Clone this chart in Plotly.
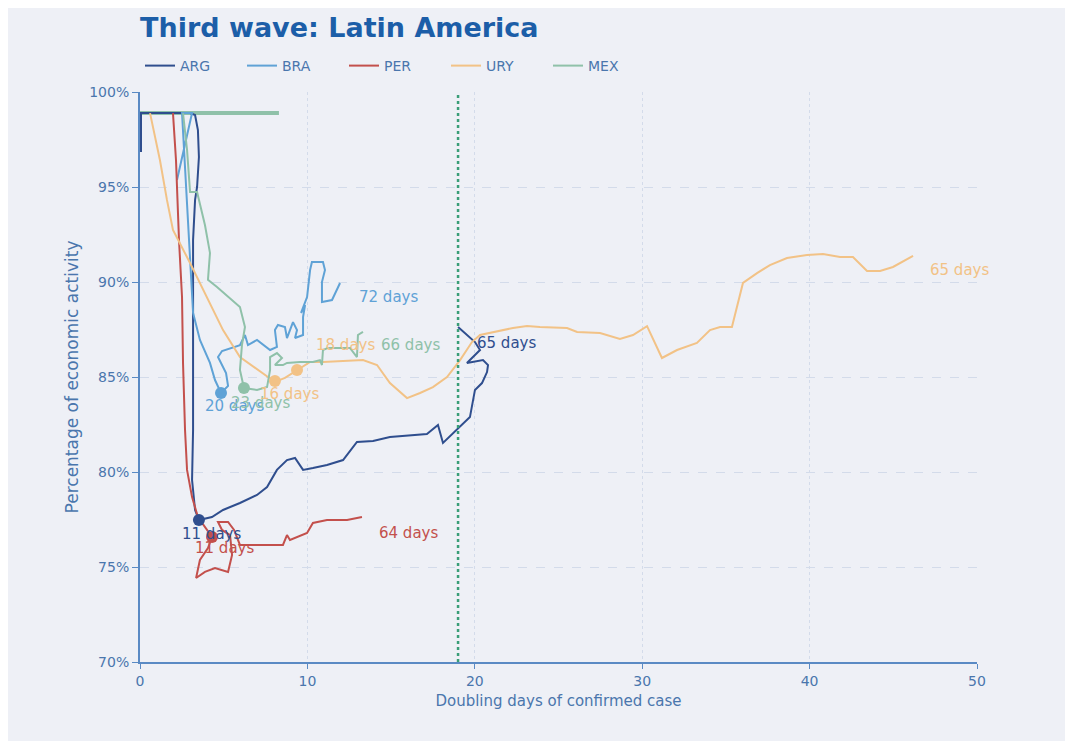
import plotly.graph_objects as go

# ---------------- data ----------------
arg_x = [0.06, 0.06, 2.99, 3.29, 3.46, 3.52, 3.41, 3.29, 3.17, 3.17, 3.17, 3.11, 3.29, 3.52,
         4.30, 4.96, 5.97, 6.99, 7.59, 8.18, 8.78, 9.26, 9.74, 10.33, 11.17, 12.13, 12.96,
         13.92, 14.93, 17.14, 17.80, 18.10, 19.12, 19.71, 20.01, 20.43, 20.73, 20.79, 20.49,
         19.83, 19.53, 20.31, 20.01, 19.00]
arg_y = [96.84, 98.89, 98.89, 98.79, 98.00, 96.58, 95.00, 94.32, 92.21, 87.47, 82.21, 79.58,
         78.00, 77.47, 77.63, 78.00, 78.37, 78.79, 79.21, 80.11, 80.63, 80.74, 80.11, 80.21,
         80.37, 80.63, 81.58, 81.63, 81.84, 82.00, 82.47, 81.53, 82.37, 82.89, 84.32, 84.68,
         85.26, 85.63, 85.89, 85.79, 85.74, 86.42, 86.84, 87.63]

bra_x = [2.21, 3.11, 2.51, 2.69, 2.87, 3.17, 3.58, 4.18, 4.48, 4.84, 5.26, 5.14, 4.66, 4.90,
         5.97, 6.27, 6.45, 6.99, 7.77, 8.18, 8.06, 8.24, 8.66, 8.78, 9.14, 9.38, 9.26, 9.74,
         9.74, 9.86, 9.62, 9.98, 10.16, 10.27, 10.93, 11.05, 10.87, 10.87, 11.47, 11.95]
bra_y = [95.37, 98.89, 98.89, 95.89, 92.74, 88.37, 86.95, 85.74, 84.84, 84.16, 84.53, 85.21,
         86.05, 86.37, 86.68, 87.21, 86.68, 86.95, 86.42, 86.58, 87.47, 87.74, 87.63, 87.05,
         87.89, 87.47, 87.05, 87.21, 88.16, 88.79, 88.37, 89.21, 90.63, 91.05, 91.05, 90.63,
         90.00, 88.95, 89.05, 89.95]

per_x = [1.97, 2.15, 2.33, 2.51, 2.57, 2.69, 2.81, 3.11, 3.46, 3.88, 4.30, 4.06, 3.58, 3.35,
         3.88, 4.48, 5.26, 5.50, 5.38, 4.90, 4.66, 5.26, 5.62, 5.97, 8.54, 8.78, 8.96, 9.98,
         10.33, 11.17, 12.37, 13.26]
per_y = [98.89, 96.42, 92.21, 89.21, 85.74, 82.21, 80.11, 78.68, 77.63, 77.11, 76.58, 76.00,
         75.37, 74.42, 74.74, 74.95, 74.74, 75.63, 76.68, 76.95, 77.37, 77.37, 76.95, 76.16,
         76.16, 76.68, 76.42, 76.79, 77.32, 77.47, 77.47, 77.63]

ury_x = [0.60, 1.19, 1.61, 1.97, 2.99, 4.00, 4.96, 5.97, 7.35, 8.06, 8.66, 9.38, 10.16, 10.93,
         13.32, 14.16, 14.93, 15.95, 16.73, 17.50, 18.34, 19.12, 19.83, 20.31, 21.09, 22.28,
         23.12, 23.89, 25.51, 26.11, 27.48, 28.67, 29.45, 30.29, 31.18, 32.08, 33.27, 34.05,
         34.65, 35.36, 36.02, 36.86, 37.63, 38.65, 39.84, 40.80, 41.82, 42.59, 43.43, 44.21,
         44.98, 46.18]
ury_y = [98.89, 96.42, 94.32, 92.74, 91.00, 89.21, 87.47, 86.05, 85.21, 84.74, 84.95, 85.37,
         85.79, 85.79, 85.89, 85.63, 84.68, 83.89, 84.16, 84.47, 85.00, 85.89, 86.84, 87.21,
         87.37, 87.58, 87.68, 87.63, 87.58, 87.37, 87.32, 87.00, 87.21, 87.68, 86.00, 86.42,
         86.79, 87.47, 87.63, 87.63, 89.95, 90.47, 90.89, 91.26, 91.42, 91.47, 91.32, 91.32,
         90.58, 90.58, 90.79, 91.37]

mex_x = [2.57, 2.81, 2.99, 3.41, 3.88, 4.18, 4.06, 4.60, 5.97, 6.27, 6.09, 5.97, 6.21, 6.99,
         7.59, 7.77, 7.77, 8.18, 8.48, 8.06, 8.54, 8.78, 9.56, 10.33, 10.75, 10.87, 10.93,
         11.23, 12.54, 12.96, 13.02, 13.32]
mex_y = [98.89, 96.95, 94.74, 94.74, 93.00, 91.53, 90.11, 89.74, 88.68, 87.63, 86.68, 85.37,
         84.42, 84.32, 84.47, 85.37, 86.05, 86.26, 86.00, 85.63, 85.63, 85.74, 85.79, 85.79,
         85.89, 85.63, 86.42, 86.53, 86.53, 86.05, 87.21, 87.37]
mex_top_x = [0.0, 8.30]
mex_top_y = [98.89, 98.89]

# highlighted points and their labels
dot_series = ["ARG", "PER", "BRA", "MEX", "URY", "URY"]
dot_x = [3.52, 4.30, 4.84, 6.21, 8.06, 9.38]
dot_y = [77.47, 76.58, 84.16, 84.42, 84.79, 85.37]

label_series = ["BRA", "MEX", "URY", "ARG", "URY", "PER", "BRA", "MEX", "URY", "ARG", "PER"]
label_text = ["72 days", "66 days", "18 days", "65 days", "65 days", "64 days",
              "20 days", "23 days", "16 days", "11 days", "11 days"]
label_x = [14.83, 16.13, 12.25, 21.92, 48.98, 16.01, 5.67, 7.20, 8.96, 4.30, 5.02]
label_y = [89.21, 86.68, 86.68, 86.79, 90.63, 76.79, 83.47, 83.63, 84.10, 76.74, 76.00]

threshold_days = 19.0

x_ticks = [0, 10, 20, 30, 40, 50]
y_ticks = [70, 75, 80, 85, 90, 95, 100]
y_tick_labels = ["70%", "75%", "80%", "85%", "90%", "95%", "100%"]

# ---------------- styling ----------------
colors = {"ARG": "#2f4e8e", "BRA": "#5fa2d6", "PER": "#c3504c",
          "URY": "#f2c286", "MEX": "#8fc1a9"}
axis_col = "#5a8ac4"
text_col = "#4a76ad"
bg = "#eef0f6"
grid_col = "#d3dbea"

series = [("ARG", arg_x, arg_y), ("BRA", bra_x, bra_y), ("PER", per_x, per_y),
          ("URY", ury_x, ury_y), ("MEX", mex_x, mex_y)]

W, H = 1057, 733
L, T, PW, PH = 132, 84, 837, 570

fig = go.Figure()

fig.add_trace(go.Scatter(x=mex_top_x, y=mex_top_y, mode="lines",
                         line=dict(color=colors["MEX"], width=4),
                         showlegend=False, hoverinfo="skip"))

for name, xs, ys in series:
    fig.add_trace(go.Scatter(x=xs, y=ys, mode="lines", name=name,
                             line=dict(color=colors[name], width=2)))

for s, xv, yv in zip(dot_series, dot_x, dot_y):
    fig.add_trace(go.Scatter(x=[xv], y=[yv], mode="markers", showlegend=False,
                             marker=dict(color=colors[s], size=12)))

for s, t, xv, yv in zip(label_series, label_text, label_x, label_y):
    fig.add_annotation(x=xv, y=yv, text=t, showarrow=False,
                       font=dict(family="DejaVu Sans", size=15, color=colors[s]))

fig.add_shape(type="line", x0=threshold_days, x1=threshold_days, y0=0, y1=1,
              xref="x", yref="paper",
              line=dict(color="#3a9e78", width=2.5, dash="dot"))

fig.update_layout(
    width=W, height=H,
    margin=dict(l=L, r=W - L - PW, t=T, b=H - T - PH),
    paper_bgcolor=bg, plot_bgcolor=bg,
    title=dict(text="<b>Third wave: Latin America</b>", x=L / W, xanchor="left",
               y=1 - 20 / H, yanchor="middle",
               font=dict(family="DejaVu Sans", size=27, color="#1c5ea8")),
    legend=dict(orientation="h", x=0, xanchor="left", y=1 + 26 / PH, yanchor="middle",
                font=dict(family="DejaVu Sans", size=14, color=text_col),
                entrywidth=57, entrywidthmode="pixels", bgcolor="rgba(0,0,0,0)"),
    showlegend=True,
    font=dict(family="DejaVu Sans", color=text_col),
)

fig.update_xaxes(range=[0, 50], tickvals=x_ticks, showline=True, linecolor=axis_col,
                 linewidth=2, ticks="outside", ticklen=5, tickcolor=axis_col,
                 showgrid=True, gridcolor=grid_col, griddash="dot", zeroline=False,
                 tickfont=dict(family="DejaVu Sans", size=14, color=text_col),
                 title=dict(text="Doubling days of confirmed case", standoff=8,
                            font=dict(family="DejaVu Sans", size=15, color=text_col)))
fig.update_yaxes(range=[70, 100], tickvals=y_ticks, ticktext=y_tick_labels, showline=True,
                 linecolor=axis_col, linewidth=2, ticks="outside", ticklen=6,
                 tickcolor=axis_col, showgrid=True, gridcolor=grid_col, griddash="dash",
                 zeroline=False,
                 tickfont=dict(family="DejaVu Sans", size=14, color=text_col),
                 title=dict(text="Percentage of economic activity", standoff=6,
                            font=dict(family="DejaVu Sans", size=17, color=text_col)))

fig.write_html("out.html")
